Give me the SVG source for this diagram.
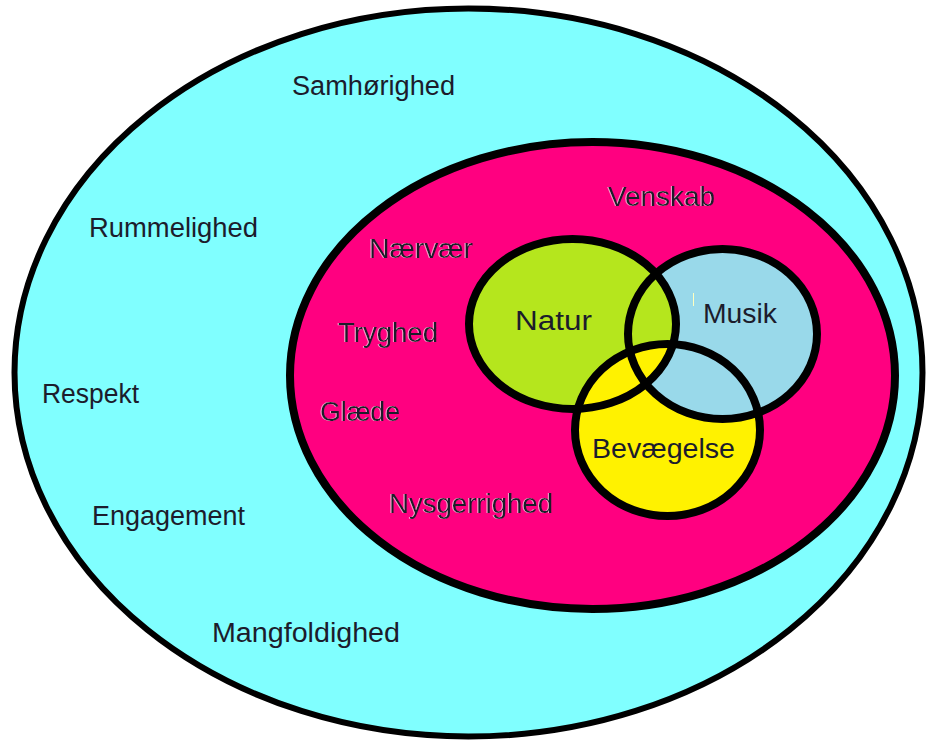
<svg xmlns="http://www.w3.org/2000/svg" width="927" height="742" viewBox="0 0 927 742">
<style>
.t{font-family:"Liberation Sans","Noto Sans",sans-serif;font-size:27px;fill:#1c1c2c}
.w{filter:url(#halo)}
.ring{stroke:#000;stroke-width:8;fill:none}
</style>
<defs>
<filter id="halo" x="-10%" y="-20%" width="120%" height="140%">
<feDropShadow dx="-1" dy="0" stdDeviation="0.2" flood-color="#ffffff" flood-opacity="0.6"/>
</filter>
<clipPath id="cBev"><ellipse cx="667.5" cy="430" rx="92.5" ry="86"/></clipPath>
<clipPath id="cNat"><ellipse cx="572.5" cy="324" rx="103.5" ry="85"/></clipPath>
</defs>
<rect width="927" height="742" fill="#ffffff"/>
<g id="outer">
<ellipse cx="468.5" cy="372.5" rx="454" ry="364" fill="#80FFFF" stroke="#000" stroke-width="6"/>
<text class="t" x="292" y="95" textLength="163" lengthAdjust="spacingAndGlyphs">Samhørighed</text>
<text class="t" x="89" y="237" textLength="169" lengthAdjust="spacingAndGlyphs">Rummelighed</text>
<text class="t" x="42" y="403" textLength="97" lengthAdjust="spacingAndGlyphs">Respekt</text>
<text class="t" x="92" y="525" textLength="153" lengthAdjust="spacingAndGlyphs">Engagement</text>
<text class="t" x="212" y="642" textLength="188" lengthAdjust="spacingAndGlyphs">Mangfoldighed</text>
</g>
<g id="inner">
<ellipse cx="592.5" cy="375.5" rx="302.5" ry="233.5" fill="#FF0080" stroke="#000" stroke-width="8"/>
<g class="w">
<text class="t" x="608" y="206" textLength="107" lengthAdjust="spacingAndGlyphs">Venskab</text>
<text class="t" x="369" y="258" textLength="104" lengthAdjust="spacingAndGlyphs">Nærvær</text>
<text class="t" x="338" y="342" textLength="100" lengthAdjust="spacingAndGlyphs">Tryghed</text>
<text class="t" x="320" y="421" textLength="80" lengthAdjust="spacingAndGlyphs">Glæde</text>
<text class="t" x="389" y="513" textLength="164" lengthAdjust="spacingAndGlyphs">Nysgerrighed</text>
</g>
</g>
<g id="fills">
<ellipse cx="722.5" cy="334" rx="94.5" ry="85" fill="#99D9EA"/>
<ellipse cx="572.5" cy="324" rx="103.5" ry="85" fill="#B5E61D"/>
<ellipse cx="667.5" cy="430" rx="92.5" ry="86" fill="#FFF200"/>
<ellipse cx="722.5" cy="334" rx="94.5" ry="85" fill="#99D9EA" clip-path="url(#cBev)"/>
<ellipse cx="667.5" cy="430" rx="92.5" ry="86" fill="#FFF200" clip-path="url(#cNat)"/>
</g>
<g id="natur">
<ellipse class="ring" cx="572.5" cy="324" rx="103.5" ry="85"/>
<text class="t" x="515" y="330" textLength="77" lengthAdjust="spacingAndGlyphs">Natur</text>
</g>
<g id="musik">
<ellipse class="ring" cx="722.5" cy="334" rx="94.5" ry="85"/>
<text class="t" x="703" y="323" textLength="74" lengthAdjust="spacingAndGlyphs">Musik</text>
<line x1="693.5" y1="293" x2="693.5" y2="306" stroke="#FFFFC0" stroke-width="1"/>
</g>
<g id="bevaegelse">
<ellipse class="ring" cx="667.5" cy="430" rx="92.5" ry="86"/>
<text class="t" x="592" y="458" textLength="143" lengthAdjust="spacingAndGlyphs">Bevægelse</text>
</g>
<g id="connectors"/>
</svg>
